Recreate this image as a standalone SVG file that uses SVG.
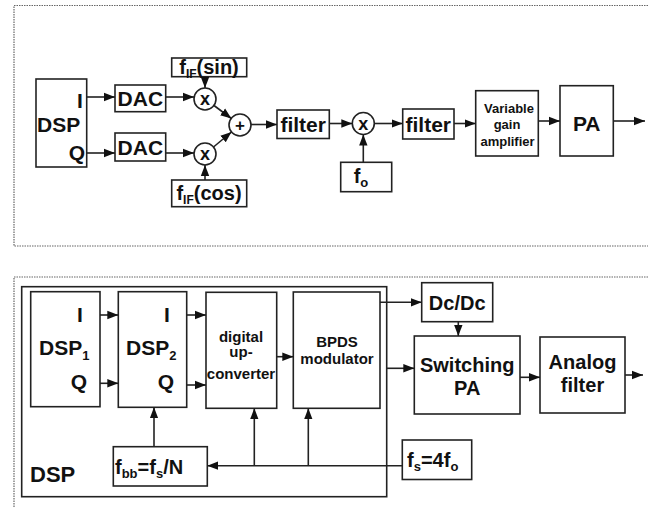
<svg xmlns="http://www.w3.org/2000/svg" width="648" height="508" viewBox="0 0 648 508">
<style>
text{font-family:"Liberation Sans",Arial,sans-serif;font-weight:bold;fill:#111}
.box{fill:#fff;stroke:#222;stroke-width:1.6}
.frame{fill:none;stroke:#666;stroke-width:1.2;stroke-dasharray:1.5 1}
.ln{fill:none;stroke:#222;stroke-width:1.6}
.c{text-anchor:middle}
.r{text-anchor:end}
</style>
<defs>
<marker id="ah" markerUnits="userSpaceOnUse" markerWidth="12" markerHeight="10" refX="11" refY="5" orient="auto">
<path d="M0,0.8 L11,5 L0,9.2 Z" fill="#111"/>
</marker>
</defs>
<g id="frames">
<path class="frame" d="M648,5.5 H14 V246 H648"/>
<path class="frame" d="M648,277 H14 V508"/>
</g>
<g id="top">
<g id="dsp"><rect class="box" x="36" y="79" width="50.7" height="88"/>
<text x="80" y="108" font-size="21" class="c">I</text>
<text x="37" y="132" font-size="21">DSP</text>
<text x="85" y="160" font-size="21" class="r">Q</text></g>
<g id="dac1"><rect class="box" x="115" y="85" width="50.7" height="26.7"/><text x="140.3" y="106" font-size="21" class="c">DAC</text></g>
<g id="dac2"><rect class="box" x="115" y="133" width="50.7" height="28"/><text x="140.3" y="154.5" font-size="21" class="c">DAC</text></g>
<g id="fsin"><rect class="box" x="171.7" y="58" width="75" height="18.7"/><text x="209" y="73.5" font-size="20" class="c">f<tspan font-size="12" dy="4">IF</tspan><tspan dy="-4">(sin)</tspan></text></g>
<g id="fcos"><rect class="box" x="171.7" y="180" width="75" height="26.7"/><text x="209" y="199.5" font-size="20" class="c">f<tspan font-size="12" dy="4">IF</tspan><tspan dy="-4">(cos)</tspan></text></g>
<g id="mul1"><circle class="box" cx="205" cy="99" r="11"/><text x="205" y="105" font-size="18" class="c">x</text></g>
<g id="mul2"><circle class="box" cx="205" cy="154" r="11"/><text x="205" y="160" font-size="18" class="c">x</text></g>
<g id="sum"><circle class="box" cx="240" cy="125" r="11"/><text x="240" y="131" font-size="17" class="c">+</text></g>
<g id="filter1"><rect class="box" x="277" y="110" width="52.3" height="28.5"/><text x="303.2" y="132" font-size="21" class="c">filter</text></g>
<g id="mul3"><circle class="box" cx="363.3" cy="123.5" r="11"/><text x="363.3" y="129.5" font-size="18" class="c">x</text></g>
<g id="fo"><rect class="box" x="340.7" y="162.3" width="51" height="29.4"/><text x="361" y="183" font-size="20" class="c">f<tspan font-size="13" dy="4">o</tspan></text></g>
<g id="filter2"><rect class="box" x="402.7" y="109" width="51.3" height="30"/><text x="428.3" y="131.5" font-size="21" class="c">filter</text></g>
<g id="vga"><rect class="box" x="475.7" y="90.7" width="62.6" height="65.3"/>
<text x="509" y="113" font-size="13" class="c">Variable</text>
<text x="507" y="129" font-size="13" class="c">gain</text>
<text x="507.5" y="146" font-size="13" class="c">amplifier</text></g>
<g id="pa"><rect class="box" x="560" y="85.7" width="53.3" height="70.3"/><text x="586.7" y="131" font-size="21" class="c">PA</text></g>
</g>
<g id="bottom">
<g id="dspframe"><rect class="box" x="21.7" y="286.7" width="365" height="210" fill="none"/>
<text x="30" y="482" font-size="22">DSP</text></g>
<g id="dsp1"><rect class="box" x="30.7" y="291.7" width="69.3" height="115"/>
<text x="80" y="322" font-size="21" class="c">I</text>
<text x="39" y="354.5" font-size="21">DSP<tspan font-size="13" dy="5">1</tspan></text>
<text x="87" y="388.5" font-size="21" class="r">Q</text></g>
<g id="dsp2"><rect class="box" x="118.3" y="291.7" width="68.4" height="115.6"/>
<text x="167" y="322" font-size="21" class="c">I</text>
<text x="126" y="354.5" font-size="21">DSP<tspan font-size="13" dy="5">2</tspan></text>
<text x="174" y="388.5" font-size="21" class="r">Q</text></g>
<g id="duc"><rect class="box" x="206" y="292.3" width="70.7" height="116"/>
<text x="241" y="341.5" font-size="15" class="c">digital</text>
<text x="241" y="357" font-size="15" class="c">up-</text>
<text x="241" y="379" font-size="15" class="c">converter</text></g>
<g id="bpds"><rect class="box" x="293.3" y="292" width="86.7" height="116.3"/>
<text x="337" y="346.5" font-size="15" class="c">BPDS</text>
<text x="337" y="363.5" font-size="15" class="c">modulator</text></g>
<g id="fbb"><rect class="box" x="113.3" y="446.7" width="94" height="39.3"/>
<text x="115" y="474" font-size="20">f<tspan font-size="13" dy="4">bb</tspan><tspan dy="-4">=f</tspan><tspan font-size="13" dy="4">s</tspan><tspan dy="-4">/N</tspan></text></g>
<g id="fs"><rect class="box" x="402.3" y="440" width="69.4" height="39.5"/>
<text x="407" y="467" font-size="20">f<tspan font-size="13" dy="4">s</tspan><tspan dy="-4">=4f</tspan><tspan font-size="13" dy="4">o</tspan></text></g>
<g id="dcdc"><rect class="box" x="421.7" y="282.7" width="71" height="39"/><text x="457.2" y="309.5" font-size="20" class="c">Dc/Dc</text></g>
<g id="spa"><rect class="box" x="414.3" y="336" width="105.7" height="78"/>
<text x="467.2" y="371.5" font-size="20" class="c">Switching</text>
<text x="467.2" y="395" font-size="20" class="c">PA</text></g>
<g id="afilter"><rect class="box" x="540" y="337" width="85" height="76"/>
<text x="582.5" y="368.5" font-size="20" class="c">Analog</text>
<text x="582.5" y="392" font-size="20" class="c">filter</text></g>
</g>
<g id="connectors">
<path class="ln" marker-end="url(#ah)" d="M86.7,97 H115"/>
<path class="ln" marker-end="url(#ah)" d="M86.7,153 H115"/>
<path class="ln" marker-end="url(#ah)" d="M165.7,97 H194"/>
<path class="ln" marker-end="url(#ah)" d="M165.7,153 H194"/>
<path class="ln" marker-end="url(#ah)" d="M205,76.7 V88"/>
<path class="ln" marker-end="url(#ah)" d="M205,180 V165"/>
<path class="ln" marker-end="url(#ah)" d="M214,105.5 L231.4,118.5"/>
<path class="ln" marker-end="url(#ah)" d="M213.5,147 L231.5,132"/>
<path class="ln" marker-end="url(#ah)" d="M251,124.5 H277"/>
<path class="ln" marker-end="url(#ah)" d="M329.3,123.5 H352.3"/>
<path class="ln" marker-end="url(#ah)" d="M363.3,162.3 V134.5"/>
<path class="ln" marker-end="url(#ah)" d="M374.3,123.5 H402.7"/>
<path class="ln" marker-end="url(#ah)" d="M454,123.5 H475.7"/>
<path class="ln" marker-end="url(#ah)" d="M538.3,121 H560"/>
<path class="ln" marker-end="url(#ah)" d="M613.3,121 H645"/>
<path class="ln" marker-end="url(#ah)" d="M100,315 H118.3"/>
<path class="ln" marker-end="url(#ah)" d="M100,383.3 H118.3"/>
<path class="ln" marker-end="url(#ah)" d="M186.7,315 H206"/>
<path class="ln" marker-end="url(#ah)" d="M186.7,385 H206"/>
<path class="ln" marker-end="url(#ah)" d="M276.7,356.7 H293.3"/>
<path class="ln" marker-end="url(#ah)" d="M154,446.7 V407.3"/>
<path class="ln" marker-end="url(#ah)" d="M402.3,465.7 H207.3"/>
<path class="ln" marker-end="url(#ah)" d="M254.3,465.7 V408.3"/>
<path class="ln" marker-end="url(#ah)" d="M308.3,465.7 V408.3"/>
<path class="ln" marker-end="url(#ah)" d="M380,302.3 H421.7"/>
<path class="ln" marker-end="url(#ah)" d="M458.3,321.7 V336"/>
<path class="ln" marker-end="url(#ah)" d="M386.7,368.3 H414.3"/>
<path class="ln" marker-end="url(#ah)" d="M520,377.3 H540"/>
<path class="ln" marker-end="url(#ah)" d="M625,375 H643"/>
</g>
</svg>
